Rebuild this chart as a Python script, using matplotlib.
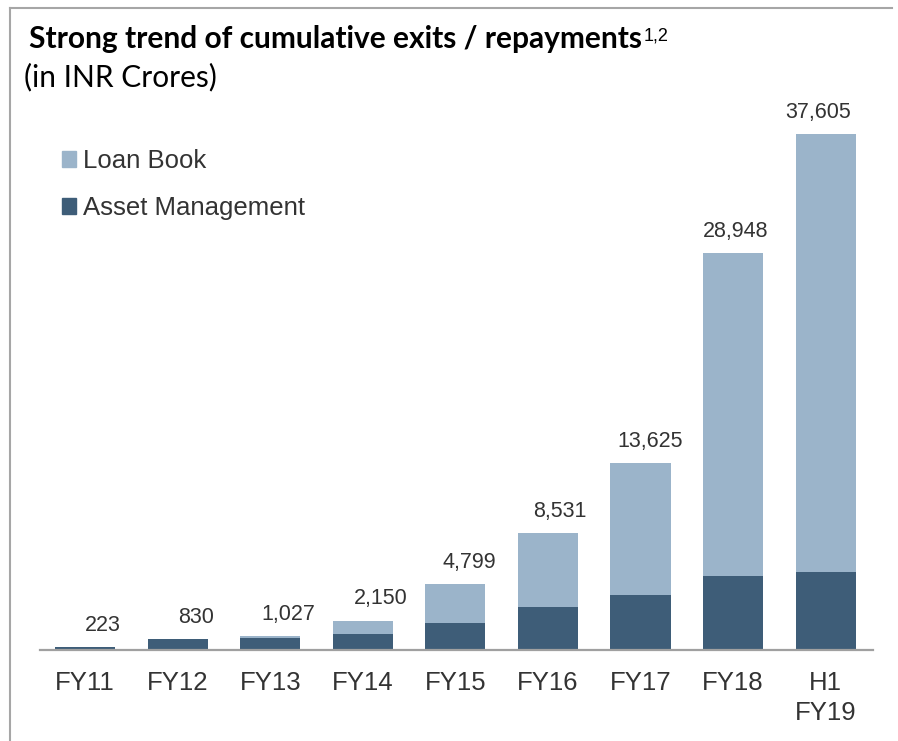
import matplotlib.pyplot as plt
from matplotlib.lines import Line2D
from matplotlib.patches import Patch

# data (INR Crores)
categories = ['FY11', 'FY12', 'FY13', 'FY14', 'FY15', 'FY16', 'FY17', 'FY18', 'H1\nFY19']
totals = [223, 830, 1027, 2150, 4799, 8531, 13625, 28948, 37605]
asset_mgmt = [223, 830, 880, 1190, 2000, 3135, 4030, 5415, 5707]
loan_book = [t - a for t, a in zip(totals, asset_mgmt)]

# small horizontal nudges of the value labels (pixels)
label_dx = [18, 18, 18, 18, 14, 12, 10, 2, -8]

light = '#9bb4ca'
dark = '#3e5d78'
text_col = '#333333'

W, H = 898, 741
fig = plt.figure(figsize=(W / 100, H / 100), dpi=100)

# axes placed in pixel terms: baseline at y=650, axis line x 40..873
ax = fig.add_axes([40 / W, (H - 650) / H, 833 / W, 550 / H])
x = list(range(len(categories)))
ax.bar(x, asset_mgmt, width=0.65, color=dark, label='Asset Management', zorder=2)
ax.bar(x, loan_book, width=0.65, bottom=asset_mgmt, color=light, label='Loan Book', zorder=2)
ax.set_xlim(-0.486, 8.51)
ax.set_ylim(0, 550 / 0.01372)

for i, t in enumerate(totals):
    ax.annotate(f'{t:,}', (i, t), xytext=(label_dx[i] * 0.72, 8), textcoords='offset points',
                ha='center', va='bottom', fontsize=15.5, family='Liberation Sans', color=text_col)

ax.set_xticks(x)
ax.set_xticklabels(categories, fontsize=18.5, family='Liberation Sans', color=text_col,
                   linespacing=1.3)
ax.tick_params(axis='x', length=0, pad=15)
ax.set_yticks([])
for s in ['top', 'right', 'left']:
    ax.spines[s].set_visible(False)
ax.spines['bottom'].set_color('#a0a0a0')
ax.spines['bottom'].set_linewidth(1.6)

handles = [Patch(color=light, label='Loan Book'), Patch(color=dark, label='Asset Management')]
fig.legend(handles=handles, loc='upper left', bbox_to_anchor=(62 / W, 1 - 149 / H),
           frameon=False, prop={'family': 'Liberation Sans', 'size': 18.5},
           handlelength=0.55, handleheight=0.55, handletextpad=0.25, labelspacing=0.9,
           borderpad=0, borderaxespad=0, labelcolor=text_col)

# title block
title = fig.text(29 / W, 1 - 48 / H, 'Strong trend of cumulative exits / repayments',
                 fontsize=21.5, fontweight='bold', family='Lato', color='black', va='baseline')
ax.annotate('1,2', xy=(1, 0), xycoords=title, xytext=(1, 9), textcoords='offset points',
            fontsize=13, family='Liberation Sans', color='black', va='baseline',
            annotation_clip=False)
fig.text(24 / W, 1 - 86 / H, '(in INR Crores)', fontsize=21.5, family='Lato',
         color='black', va='baseline')

# frame lines on left and top
fig.add_artist(Line2D([10 / W, 10 / W], [0, 1 - 8 / H], color='#a6a6a6', lw=1.5))
fig.add_artist(Line2D([10 / W, 892 / W], [1 - 8 / H, 1 - 8 / H], color='#a6a6a6', lw=1.5))

fig.savefig('out.png', dpi=100, facecolor='white')
